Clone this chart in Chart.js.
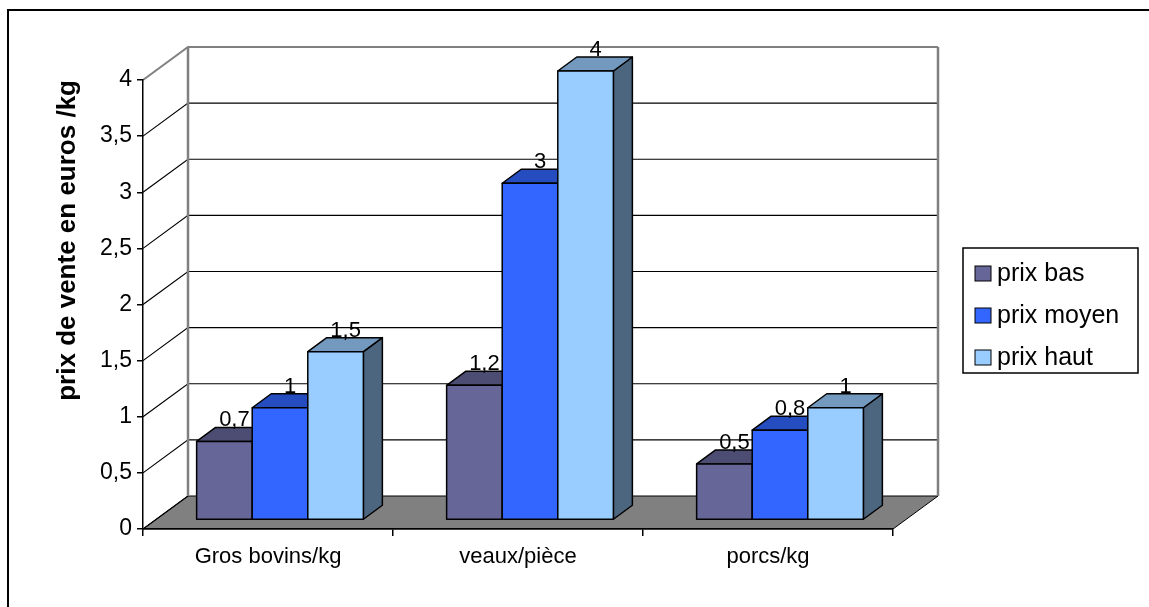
<!DOCTYPE html>
<html>
<head>
<meta charset="utf-8">
<script src="https://cdn.jsdelivr.net/npm/chart.js@4/dist/chart.umd.min.js"></script>
<style>
  body { margin: 0; background: #fff; }
  canvas { display: block; }
</style>
</head>
<body>
<canvas id="chart" width="1149" height="607"></canvas>
<script>
const categories = ['Gros bovins/kg', 'veaux/pièce', 'porcs/kg'];
const seriesNames = ['prix bas', 'prix moyen', 'prix haut'];
const prixBas = [0.7, 1.2, 0.5];
const prixMoyen = [1, 3, 0.8];
const prixHaut = [1.5, 4, 1];
const yMax = 4;
const yStep = 0.5;

const FONT = 'Liberation Sans, Arial, sans-serif';
const frontColors = ['#666699', '#3366FF', '#99CCFF'];
const topColors = ['#4D4D73', '#264DBF', '#7399BF'];
const sideColors = ['#33334D', '#1A3380', '#4D6680'];

// 3d offsets: wall depth, bar plane, bar depth
const WALL = { x: 45, y: -33 };
const PLANE = { x: 12, y: -9 };
const DEPTH = { x: 19, y: -14 };

function comma(v) {
    return String(v).replace('.', ',');
}

const box3d = {
    id: 'box3d',
    beforeDraw(chart) {
        const ctx = chart.ctx;
        const a = chart.chartArea;
        const y = chart.scales.y;
        ctx.save();
        ctx.fillStyle = '#fff';
        ctx.fillRect(0, 0, chart.width, chart.height);

        // outer frame
        ctx.strokeStyle = '#000';
        ctx.lineWidth = 2;
        ctx.strokeRect(8, 10, chart.width + 20, chart.height + 20);

        // floor
        const y0 = y.getPixelForValue(0);
        ctx.fillStyle = '#808080';
        ctx.beginPath();
        ctx.moveTo(a.left, y0);
        ctx.lineTo(a.right, y0);
        ctx.lineTo(a.right + WALL.x, y0 + WALL.y);
        ctx.lineTo(a.left + WALL.x, y0 + WALL.y);
        ctx.closePath();
        ctx.fill();
        ctx.strokeStyle = '#000';
        ctx.lineWidth = 1;
        ctx.stroke();

        // gridlines on back and side wall
        y.ticks.forEach(t => {
            const py = y.getPixelForValue(t.value);
            ctx.strokeStyle = t.value === yMax ? '#808080' : '#000';
            ctx.lineWidth = t.value === yMax ? 2 : 1.2;
            ctx.beginPath();
            ctx.moveTo(a.left, py);
            ctx.lineTo(a.left + WALL.x, py + WALL.y);
            if (t.value > 0) ctx.lineTo(a.right + WALL.x, py + WALL.y);
            ctx.stroke();
        });

        // wall edges
        const top = y.getPixelForValue(yMax) + WALL.y;
        const bot = y0 + WALL.y;
        ctx.strokeStyle = '#808080';
        ctx.lineWidth = 2.5;
        ctx.beginPath();
        ctx.moveTo(a.left + WALL.x, bot);
        ctx.lineTo(a.left + WALL.x, top);
        ctx.moveTo(a.right + WALL.x, top);
        ctx.lineTo(a.right + WALL.x, bot);
        ctx.stroke();
        ctx.restore();
    },
    beforeDatasetsDraw(chart) {
        const ctx = chart.ctx;
        ctx.save();
        ctx.lineWidth = 1.5;
        ctx.strokeStyle = '#000';
        ctx.lineJoin = 'round';
        chart.data.datasets.forEach((ds, i) => {
            chart.getDatasetMeta(i).data.forEach(el => {
                const x0 = el.x - el.width / 2 + PLANE.x;
                const x1 = x0 + el.width;
                const yt = el.y + PLANE.y;
                const yb = el.base + PLANE.y;
                // side
                ctx.fillStyle = sideColors[i];
                ctx.beginPath();
                ctx.moveTo(x1, yt);
                ctx.lineTo(x1 + DEPTH.x, yt + DEPTH.y);
                ctx.lineTo(x1 + DEPTH.x, yb + DEPTH.y);
                ctx.lineTo(x1, yb);
                ctx.closePath();
                ctx.fill();
                ctx.stroke();
                // top
                ctx.fillStyle = topColors[i];
                ctx.beginPath();
                ctx.moveTo(x0, yt);
                ctx.lineTo(x0 + DEPTH.x, yt + DEPTH.y);
                ctx.lineTo(x1 + DEPTH.x, yt + DEPTH.y);
                ctx.lineTo(x1, yt);
                ctx.closePath();
                ctx.fill();
                ctx.stroke();
                // front
                ctx.fillStyle = frontColors[i];
                ctx.fillRect(x0, yt, el.width, yb - yt);
                ctx.strokeRect(x0, yt, el.width, yb - yt);
            });
        });

        // value labels
        ctx.fillStyle = '#000';
        ctx.font = '22px ' + FONT;
        ctx.textAlign = 'center';
        ctx.textBaseline = 'alphabetic';
        chart.data.datasets.forEach((ds, i) => {
            chart.getDatasetMeta(i).data.forEach((el, j) => {
                ctx.fillText(comma(ds.data[j]), el.x + PLANE.x + 10, el.y + PLANE.y - 15);
            });
        });
        ctx.restore();
        return false;
    },
    afterDraw(chart) {
        const ctx = chart.ctx;
        ctx.save();
        ctx.strokeStyle = '#000';
        ctx.lineWidth = 1.5;
        ctx.fillStyle = '#fff';
        ctx.fillRect(963, 248, 175, 125);
        ctx.strokeRect(963, 248, 175, 125);
        ctx.font = '25px ' + FONT;
        ctx.textBaseline = 'middle';
        ctx.textAlign = 'left';
        chart.data.datasets.forEach((ds, i) => {
            const cy = 273 + i * 42;
            ctx.fillStyle = frontColors[i];
            ctx.fillRect(975, cy - 7, 16, 15);
            ctx.lineWidth = 1;
            ctx.strokeRect(975, cy - 7, 16, 15);
            ctx.fillStyle = '#000';
            ctx.fillText(ds.label, 997, cy + 1);
        });
        ctx.restore();
    }
};

new Chart(document.getElementById('chart'), {
    type: 'bar',
    data: {
        labels: categories,
        datasets: [
            { label: seriesNames[0], data: prixBas, backgroundColor: frontColors[0] },
            { label: seriesNames[1], data: prixMoyen, backgroundColor: frontColors[1] },
            { label: seriesNames[2], data: prixHaut, backgroundColor: frontColors[2] }
        ]
    },
    options: {
        responsive: false,
        devicePixelRatio: 1,
        animation: false,
        categoryPercentage: 0.667,
        barPercentage: 1,
        layout: { padding: { left: 8, top: 80, right: 256, bottom: 0 } },
        plugins: {
            legend: { display: false },
            tooltip: { enabled: false }
        },
        scales: {
            x: {
                afterFit: s => { s.height = 78; },
                grid: { offset: true, drawOnChartArea: false, tickLength: 7, color: '#000', lineWidth: 1.5 },
                border: { display: true, color: '#000', width: 1.5 },
                ticks: { color: '#000', font: { family: FONT, size: 22 }, padding: 8, maxRotation: 0 }
            },
            y: {
                min: 0,
                max: yMax,
                afterFit: s => { s.width = 135; },
                grid: { drawOnChartArea: false, tickLength: 6, color: '#000', lineWidth: 1.5 },
                border: { display: true, color: '#000', width: 1.5 },
                ticks: {
                    stepSize: yStep,
                    color: '#000',
                    padding: 5,
                    font: { family: FONT, size: 23 },
                    callback: v => comma(v)
                },
                title: {
                    display: true,
                    text: 'prix de vente en euros /kg',
                    color: '#000',
                    align: 'end',
                    font: { family: FONT, size: 26, weight: 'bold' },
                    padding: { top: 44, bottom: 0 }
                }
            }
        }
    },
    plugins: [box3d]
});
</script>
</body>
</html>
